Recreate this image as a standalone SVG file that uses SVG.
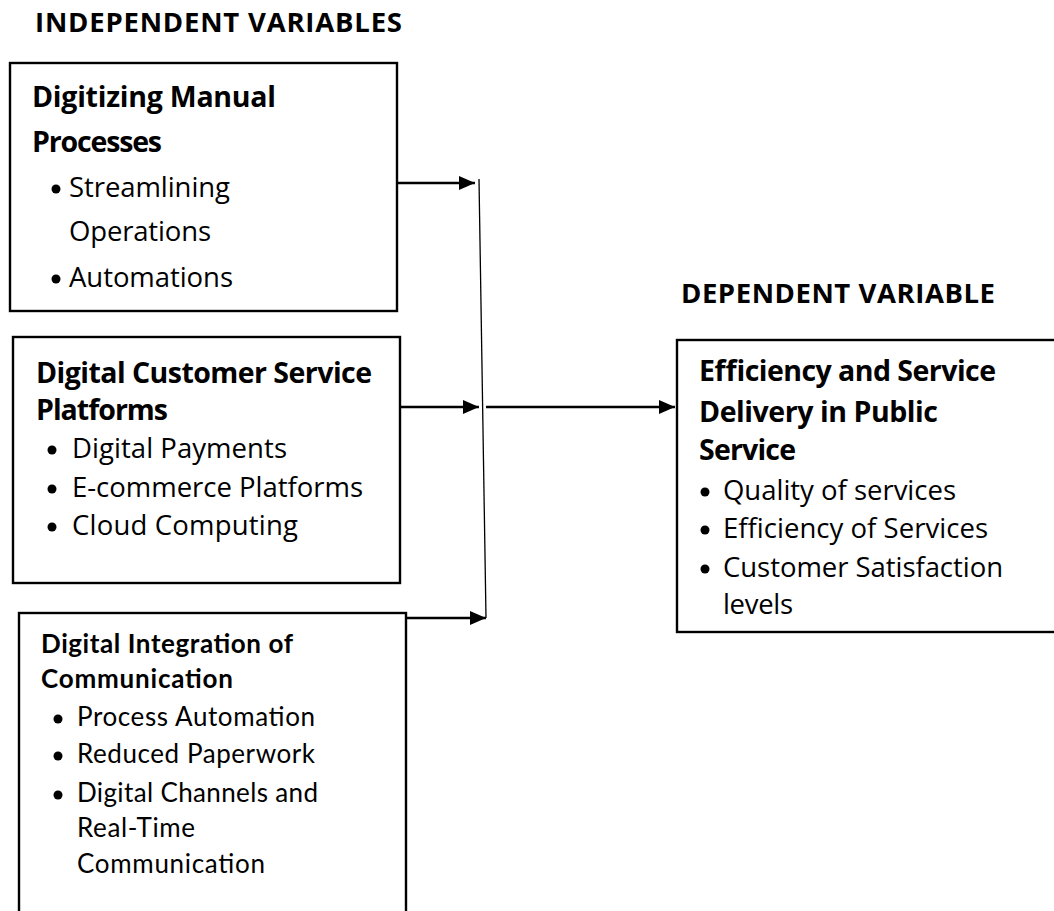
<svg xmlns="http://www.w3.org/2000/svg" width="1054" height="911" viewBox="0 0 1054 911">
<defs>
<style>
.box{fill:#fff;stroke:#000;stroke-width:2.4}
.h{font-family:"Open Sans","DejaVu Sans",sans-serif;font-weight:bold;font-size:27.5px;fill:#000}
.t{font-family:"Open Sans","DejaVu Sans",sans-serif;font-weight:bold;font-size:28.5px;fill:#000}
.r{font-family:"Open Sans","DejaVu Sans",sans-serif;font-size:27.5px;fill:#000}
.tc{font-family:Lato,"Open Sans",sans-serif;font-weight:bold;font-size:26px;fill:#000}
.rc{font-family:Lato,"Open Sans",sans-serif;font-size:26px;fill:#000}
.dot{fill:#000}
.conn{stroke:#000;stroke-width:2.4;fill:none}
.thin{stroke:#000;stroke-width:1.3;fill:none}
</style>
<marker id="ah" markerUnits="userSpaceOnUse" markerWidth="16" markerHeight="14" refX="16" refY="7" orient="auto">
<path d="M0,0 L16,7 L0,14 Z" fill="#000"/>
</marker>
</defs>
<rect width="1054" height="911" fill="#fff"/>

<text class="h" x="35" y="32" textLength="367">INDEPENDENT VARIABLES</text>
<text class="h" x="681" y="303" textLength="314">DEPENDENT VARIABLE</text>

<g id="node-digitizing">
<rect class="box" x="10" y="63" width="387" height="248"/>
<text class="t" x="32" y="107" textLength="244">Digitizing Manual</text>
<text class="t" x="32" y="152" textLength="130">Processes</text>
<circle class="dot" cx="56" cy="189" r="4.5"/>
<text class="r" x="69" y="197" textLength="161">Streamlining</text>
<text class="r" x="69" y="241" textLength="142">Operations</text>
<circle class="dot" cx="56" cy="279" r="4.5"/>
<text class="r" x="69" y="287" textLength="164">Automations</text>
</g>

<g id="node-customer">
<rect class="box" x="13" y="337" width="387" height="246"/>
<text class="t" x="36" y="383" textLength="336">Digital Customer Service</text>
<text class="t" x="36" y="420" textLength="132">Platforms</text>
<circle class="dot" cx="52" cy="450" r="4.5"/>
<text class="r" x="72" y="458" textLength="215">Digital Payments</text>
<circle class="dot" cx="52" cy="489" r="4.5"/>
<text class="r" x="72" y="497" textLength="291">E-commerce Platforms</text>
<circle class="dot" cx="52" cy="527" r="4.5"/>
<text class="r" x="72" y="535" textLength="226">Cloud Computing</text>
</g>

<g id="node-integration">
<rect class="box" x="19" y="613" width="387" height="320"/>
<text class="tc" x="41" y="653" textLength="252">Digital Integration of</text>
<text class="tc" x="41" y="688" textLength="192">Communication</text>
<circle class="dot" cx="58" cy="719" r="4.5"/>
<text class="rc" x="77" y="726" textLength="238">Process Automation</text>
<circle class="dot" cx="58" cy="756" r="4.5"/>
<text class="rc" x="77" y="763" textLength="238">Reduced Paperwork</text>
<circle class="dot" cx="58" cy="795" r="4.5"/>
<text class="rc" x="77" y="802" textLength="241">Digital Channels and</text>
<text class="rc" x="77" y="837" textLength="118">Real-Time</text>
<text class="rc" x="77" y="873" textLength="188">Communication</text>
</g>

<g id="node-efficiency">
<rect class="box" x="677" y="340" width="390" height="292"/>
<text class="t" x="699" y="381" textLength="297">Efficiency and Service</text>
<text class="t" x="699" y="422" textLength="239">Delivery in Public</text>
<text class="t" x="699" y="460" textLength="97">Service</text>
<circle class="dot" cx="705" cy="492" r="4.5"/>
<text class="r" x="723" y="500" textLength="233">Quality of services</text>
<circle class="dot" cx="705" cy="530" r="4.5"/>
<text class="r" x="723" y="538" textLength="265">Efficiency of Services</text>
<circle class="dot" cx="705" cy="569" r="4.5"/>
<text class="r" x="723" y="577" textLength="280">Customer Satisfaction</text>
<text class="r" x="723" y="614" textLength="70">levels</text>
</g>

<g id="connectors">
<path class="conn" d="M397,183 L475,183" marker-end="url(#ah)"/>
<path class="conn" d="M400,407 L479,407" marker-end="url(#ah)"/>
<path class="conn" d="M406,618 L486,618" marker-end="url(#ah)"/>
<path class="thin" d="M479,179 L486,618"/>
<path class="conn" d="M486,407 L675,407" marker-end="url(#ah)"/>
</g>
</svg>
